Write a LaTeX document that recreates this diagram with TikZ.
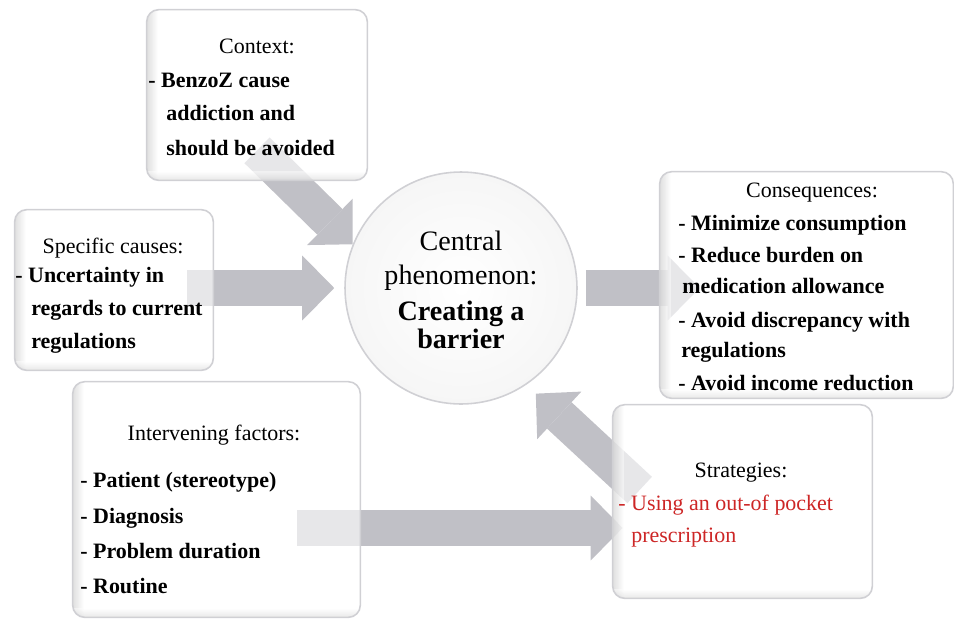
\documentclass[tikz,border=0pt]{standalone}
\usepackage{fontspec}
\setmainfont{Liberation Serif}[BoldFont={Liberation Serif Bold}]
\usetikzlibrary{arrows.meta}
\definecolor{stratred}{RGB}{205,38,38}
\definecolor{arrowgray}{RGB}{192,192,198}
\definecolor{rimgray}{RGB}{208,208,212}

\begin{document}
\begin{tikzpicture}[x=0.02cm, y=-0.02cm]

        \def\boxsize{12.5}          % font size in the boxes
        \def\bigsize{16}            % font size in the circle
        \tikzstyle{box}=[draw=rimgray, line width=0.9pt, rounded corners=0.24cm]
        \tikzstyle{title}=[anchor=base, inner sep=0pt, font={\fontsize{\boxsize}{15}\selectfont}]
        \tikzstyle{item}=[anchor=base west, inner sep=0pt, font={\fontsize{\boxsize}{15}\selectfont\bfseries}]
        \tikzstyle{reditem}=[item, font={\fontsize{\boxsize}{15}\selectfont}, text=stratred]
        \tikzstyle{bigtext}=[anchor=base, inner sep=0pt, font={\fontsize{\bigsize}{19}\selectfont}]
        \tikzstyle{flow}=[draw=arrowgray, line width=0.72cm, arrows={-Triangle[length=0.64cm, width=1.3cm, line width=0pt]}]

        \useasboundingbox (0,0) rectangle (954,619);

        % Draw the central circle and place the boxes (arrows go in between)
            \node[circle, minimum size=4.64cm, draw=rimgray, line width=0.9pt, shading=radial, inner color=white, outer color=gray!7] (phen) at (461,288) {};
            \node[minimum width=4.4cm, minimum height=3.4cm, inner sep=0pt] (ctx) at (257,95) {};
            \node[minimum width=3.96cm, minimum height=3.2cm, inner sep=0pt] (cause) at (114,290) {};
            \node[minimum width=5.86cm, minimum height=4.52cm, inner sep=0pt] (conseq) at (806.5,285) {};
            \node[minimum width=5.74cm, minimum height=4.7cm, inner sep=0pt] (factor) at (216.5,499.5) {};
            \node[minimum width=5.18cm, minimum height=3.86cm, inner sep=0pt] (strat) at (742.5,501.5) {};

        % Draw the arrows
            \draw[flow] ([yshift=0.6cm]ctx.south) -- (phen.158);
            \draw[flow] ([xshift=-0.52cm]cause.east |- phen.west) -- ([xshift=-0.2cm]phen.west);
            \draw[flow] ([xshift=0.16cm]phen.east) -- ([xshift=0.8cm]conseq.west |- phen.east);
            \draw[flow, shorten >=0.26cm] ([xshift=0.54cm, yshift=0.23cm]strat.west) -- (phen.304);
            \coordinate (fac-out) at ([xshift=-1.26cm, yshift=-0.57cm]factor.east);
            \draw[flow] (fac-out) -- ([xshift=0.2cm]strat.west |- fac-out);

        % Lay the boxes over the arrow tails, shaded along the left and bottom edge
            \foreach \bx in {ctx,cause,conseq,factor,strat}{
                \begin{scope}
                    \clip[rounded corners=0.24cm] (\bx.south west) rectangle (\bx.north east);
                    \fill[white, opacity=0.62] (\bx.south west) rectangle (\bx.north east);
                    \shade[left color=gray!45, right color=white, opacity=0.55] (\bx.south west) rectangle ([xshift=0.22cm]\bx.north west);
                    \shade[bottom color=gray!40, top color=white, opacity=0.45] (\bx.south west) rectangle ([yshift=0.18cm]\bx.south east);
                \end{scope}
                \draw[box] (\bx.south west) rectangle (\bx.north east);
            }

        % Central phenomenon
            \foreach \yy/\txt in {250/Central, 284/phenomenon:}
                \node[bigtext] (phen-\yy) at (461,\yy) {\txt};
            \foreach \yy/\txt in {320/{Creating a}, 348/barrier}
                \node[bigtext, font={\fontsize{\bigsize}{19}\selectfont\bfseries}] (phen-\yy) at (461,\yy) {\txt};

        % Context
            \node[title] (ctx-t) at (257,53) {Context:};
            \foreach \xx/\yy/\txt in {148/87/{- BenzoZ cause}, 166/120/{addiction and}, 166/155/{should be avoided}}
                \node[item] (ctx-\yy) at (\xx,\yy) {\txt};

        % Specific causes
            \node[title] (cause-t) at (113,253) {Specific causes:};
            \foreach \xx/\yy/\txt in {15/282/{- Uncertainty in}, 31/315/{regards to current}, 31/348/{regulations}}
                \node[item] (cause-\yy) at (\xx,\yy) {\txt};

        % Consequences
            \node[title] (conseq-t) at (812,197) {Consequences:};
            \foreach \xx/\yy/\txt in {678/230/{- Minimize consumption}, 678/262/{- Reduce burden on}, 682/293/{medication allowance}, 678/327/{- Avoid discrepancy with}, 681/357/{regulations}, 678/390/{- Avoid income reduction}}
                \node[item] (conseq-\yy) at (\xx,\yy) {\txt};

        % Intervening factors
            \node[title] (factor-t) at (214,440) {Intervening factors:};
            \foreach \yy/\txt in {487/{- Patient (stereotype)}, 523/{- Diagnosis}, 558/{- Problem duration}, 593/{- Routine}}
                \node[item] (factor-\yy) at (80,\yy) {\txt};

        % Strategies
            \node[title] (strat-t) at (741,477) {Strategies:};
            \foreach \xx/\yy/\txt in {618/510/{- Using an out-of pocket}, 631/542/{prescription}}
                \node[reditem] (strat-\yy) at (\xx,\yy) {\txt};

\end{tikzpicture}
\end{document}
